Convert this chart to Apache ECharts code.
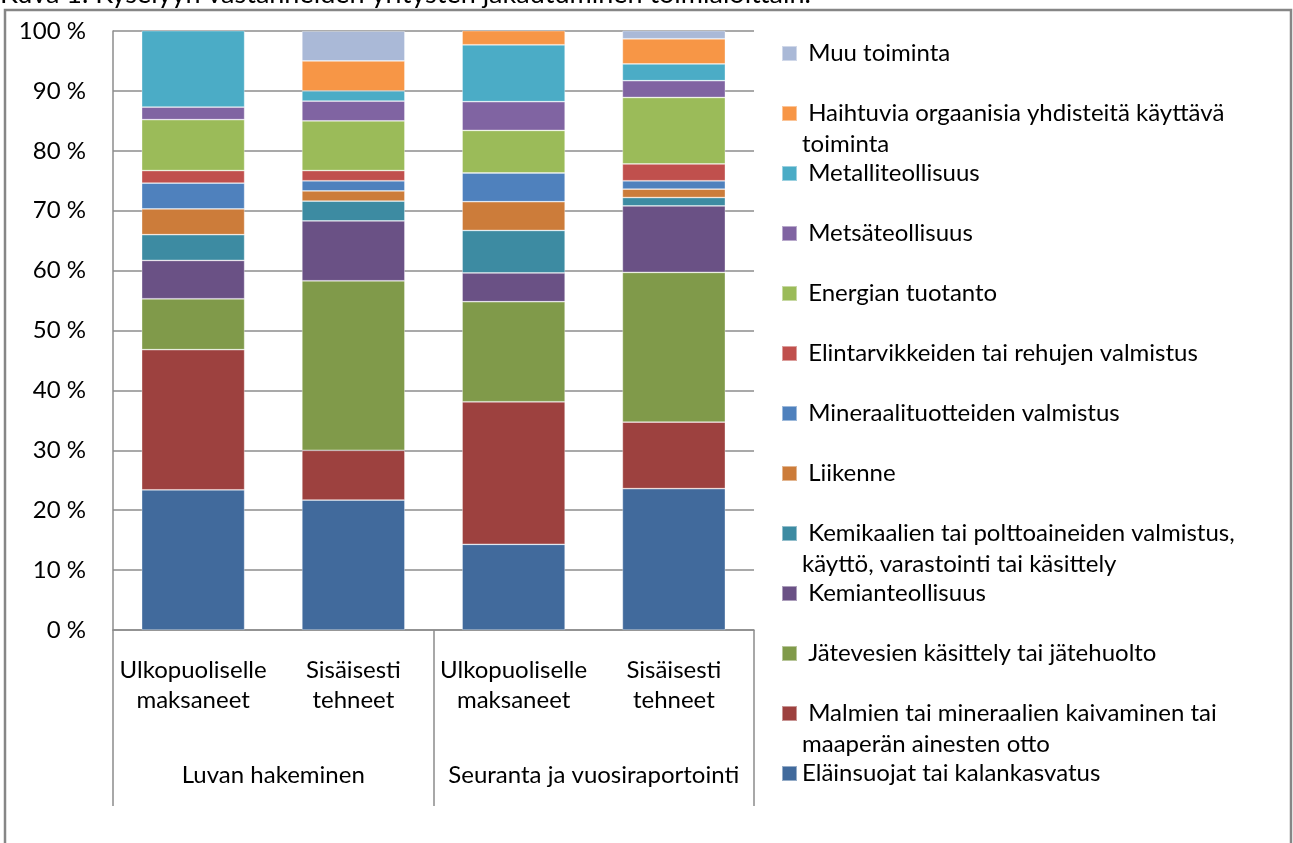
<!DOCTYPE html>
<html>
<head>
<meta charset="utf-8">
<script src="https://cdn.jsdelivr.net/npm/echarts@6/dist/echarts.min.js"></script>
<style>
  html, body { margin: 0; padding: 0; background: #fff; }
  #chart { width: 1293px; height: 843px; }
</style>
</head>
<body>
<div id="chart"></div>
<script>
// categories (x-axis), two levels
const categories = ["Ulkopuoliselle\nmaksaneet", "Sisäisesti\ntehneet", "Ulkopuoliselle\nmaksaneet", "Sisäisesti\ntehneet"];
const groups = ["Luvan hakeminen", "Seuranta ja vuosiraportointi"];

// shares (%) per sector, bottom -> top of the stack
const elainsuojat   = [23.4, 21.7, 14.3, 23.6];
const malmit        = [23.4,  8.3, 23.8, 11.1];
const jatevedet     = [ 8.5, 28.3, 16.7, 25.0];
const kemianteoll   = [ 6.4, 10.0,  4.8, 11.1];
const kemikaalit    = [ 4.3,  3.3,  7.1,  1.4];
const liikenne      = [ 4.3,  1.7,  4.8,  1.4];
const mineraalit    = [ 4.3,  1.7,  4.8,  1.4];
const elintarvikkeet= [ 2.1,  1.7,  0.0,  2.8];
const energia       = [ 8.5,  8.3,  7.1, 11.1];
const metsateoll    = [ 2.1,  3.3,  4.8,  2.8];
const metalliteoll  = [12.8,  1.7,  9.5,  2.8];
const haihtuvat     = [ 0.0,  5.0,  2.4,  4.2];
const muu           = [ 0.0,  5.0,  0.0,  1.4];

const yTicks = [0, 10, 20, 30, 40, 50, 60, 70, 80, 90, 100];

const sectors = [
  { name: "Eläinsuojat tai kalankasvatus", label: "Eläinsuojat tai kalankasvatus", data: elainsuojat, color: "#416A9C" },
  { name: "Malmien tai mineraalien kaivaminen tai maaperän ainesten otto", label: " Malmien tai mineraalien kaivaminen tai\nmaaperän ainesten otto", data: malmit, color: "#9D413F" },
  { name: "Jätevesien käsittely tai jätehuolto", label: " Jätevesien käsittely tai jätehuolto", data: jatevedet, color: "#809A4A" },
  { name: "Kemianteollisuus", label: " Kemianteollisuus", data: kemianteoll, color: "#6A5185" },
  { name: "Kemikaalien tai polttoaineiden valmistus, käyttö, varastointi tai käsittely", label: " Kemikaalien tai polttoaineiden valmistus,\nkäyttö, varastointi tai käsittely", data: kemikaalit, color: "#3D8BA2" },
  { name: "Liikenne", label: " Liikenne", data: liikenne, color: "#CC7C3A" },
  { name: "Mineraalituotteiden valmistus", label: " Mineraalituotteiden valmistus", data: mineraalit, color: "#4F81BD" },
  { name: "Elintarvikkeiden tai rehujen valmistus", label: " Elintarvikkeiden tai rehujen valmistus", data: elintarvikkeet, color: "#C0504D" },
  { name: "Energian tuotanto", label: " Energian tuotanto", data: energia, color: "#9BBB59" },
  { name: "Metsäteollisuus", label: " Metsäteollisuus", data: metsateoll, color: "#8064A2" },
  { name: "Metalliteollisuus", label: " Metalliteollisuus", data: metalliteoll, color: "#4BACC6" },
  { name: "Haihtuvia orgaanisia yhdisteitä käyttävä toiminta", label: " Haihtuvia orgaanisia yhdisteitä käyttävä\ntoiminta", data: haihtuvat, color: "#F79646" },
  { name: "Muu toiminta", label: " Muu toiminta", data: muu, color: "#AAB9D7" }
];

const FONT = "Lato, 'Noto Sans', sans-serif";
const LH = 31;
// each legend label is three lines (blank, first, second) so the marker,
// centred on the block, sits on the first line and every entry stacks alike
const labelOf = {};
sectors.forEach(s => {
  const second = s.label.indexOf("\n") >= 0 ? "" : "\n\u00a0";
  labelOf[s.name] = "\u00a0\n" + s.label + second;
});

const chart = echarts.init(document.getElementById("chart"), null, { renderer: "canvas" });

chart.setOption({
  backgroundColor: "#fff",
  animation: false,
  textStyle: { fontFamily: FONT },
  title: {
    text: "Kuva 1. Kyselyyn vastanneiden yritysten jakautuminen toimialoittain.",
    left: 0,
    top: -19,
    padding: 0,
    textStyle: { fontFamily: FONT, fontSize: 27, fontWeight: "normal", color: "#000" }
  },
  graphic: [{
    type: "rect",
    shape: { x: 5, y: 10, width: 1286, height: 900 },
    style: { fill: "none", stroke: "#868686", lineWidth: 2.5 },
    silent: true,
    z: -1
  }],
  legend: {
    orient: "vertical",
    left: 781,
    top: 7,
    padding: 0,
    height: 836,
    itemGap: 60 - 3 * LH,
    itemWidth: 15,
    itemHeight: 15,
    icon: "rect",
    selectedMode: false,
    data: sectors.slice().reverse().map(s => s.name),
    formatter: name => labelOf[name],
    textStyle: { fontFamily: FONT, fontSize: 24, color: "#000", lineHeight: LH }
  },
  grid: { left: 113, right: 539, top: 31, bottom: 213, containLabel: false },
  xAxis: [
    {
      type: "category",
      data: categories,
      position: "bottom",
      axisLine: { lineStyle: { color: "#8c8c8c", width: 1.5 } },
      axisTick: { show: false },
      axisLabel: {
        interval: 0,
        margin: 25,
        fontFamily: FONT,
        fontSize: 24,
        lineHeight: 30,
        color: "#000"
      }
    },
    {
      type: "category",
      data: groups,
      position: "bottom",
      axisLine: { show: false },
      axisTick: { show: true, length: 176, interval: 0, lineStyle: { color: "#8c8c8c", width: 1.5 } },
      axisLabel: {
        interval: 0,
        margin: 130,
        fontFamily: FONT,
        fontSize: 24,
        lineHeight: 30,
        color: "#000"
      }
    }
  ],
  yAxis: {
    type: "value",
    min: yTicks[0],
    max: yTicks[yTicks.length - 1],
    interval: yTicks[1] - yTicks[0],
    axisLine: { show: true, lineStyle: { color: "#8c8c8c", width: 1.5 } },
    axisTick: { show: false },
    splitLine: { lineStyle: { color: "#8c8c8c", width: 1.5 } },
    axisLabel: {
      margin: 27,
      fontFamily: FONT,
      fontSize: 24,
      color: "#000",
      formatter: v => v + " %"
    }
  },
  series: sectors.map(s => ({
    name: s.name,
    type: "bar",
    stack: "total",
    xAxisIndex: 0,
    barWidth: 103,
    data: s.data,
    itemStyle: { color: s.color, borderColor: "rgba(255,255,255,0.45)", borderWidth: 0.75 },
    emphasis: { disabled: true }
  }))
});
</script>
</body>
</html>
